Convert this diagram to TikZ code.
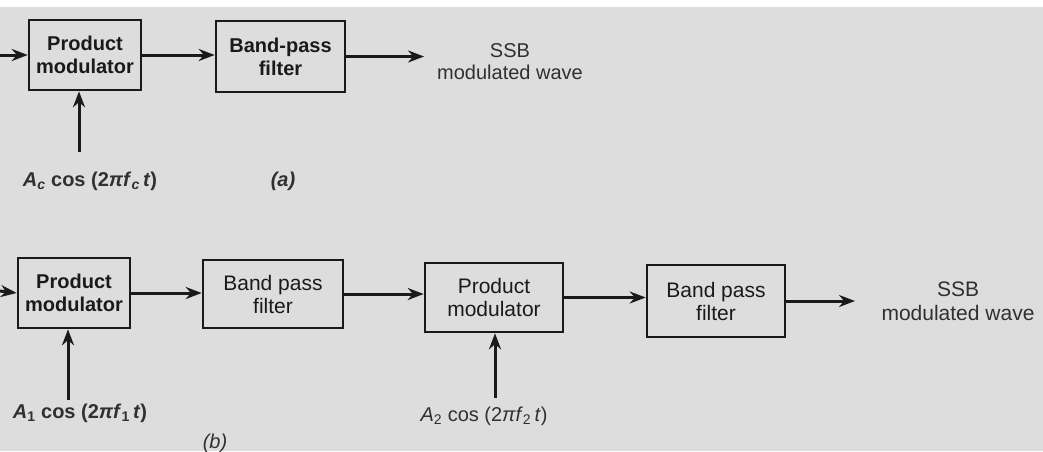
\documentclass[tikz,border=0pt]{standalone}
\usepackage{fontspec}
\setmainfont{Liberation Sans}
\usetikzlibrary{arrows.meta}
\definecolor{paper}{HTML}{DDDDDD}
\definecolor{ink}{HTML}{1A1A1A}
\definecolor{softink}{HTML}{303030}
\tikzset{
  blk/.style={draw=ink, line width=2.6pt, fill=paper, align=center, inner sep=0pt,
    font=\fontsize{21}{23}\selectfont, text=ink},
  heavy/.style={font=\bfseries\fontsize{20}{23}\selectfont},
  sig/.style={draw=ink, line width=3pt, -{Stealth[length=16pt,width=12pt]}},
  lbl/.style={font=\fontsize{20}{22}\selectfont, text=softink, inner sep=0pt, align=center},
}
\newcommand{\sv}[1]{\textit{#1}}
\begin{document}
\begin{tikzpicture}[x=1pt,y=-1pt]
  % paper and frame
  \fill[paper] (0,0) rectangle (1043,451);
  \fill[white] (0,0) rectangle (1043,7);
  \useasboundingbox (0,0) rectangle (1043,451);

  % (a) single-stage SSB generator
  \node[blk, heavy, minimum width=112pt, minimum height=70pt] (pma) at (85,55) {Product\\modulator};
  \node[blk, heavy, minimum width=129pt, minimum height=71pt] (bpfa) at (280.5,56.5) {Band-pass\\filter};
  \coordinate (ina) at (0,55);
  \coordinate (outa) at (424,57);
  \coordinate (ca) at (79,152);
  \node[lbl] (ssba) at (510,62) {SSB\\modulated wave};
  \node[lbl, heavy] (lbla) at (90,181) {\sv{A}\textsubscript{\sv{c}} cos (2\sv{πf}\textsubscript{\sv{c}}\,\sv{t})};
  \node[lbl, heavy] (capa) at (283,181) {\sv{(a)}};
  \draw[sig] (ina) -- (pma.west);
  \draw[sig] (pma.east) -- (pma.east -| bpfa.west);
  \draw[sig] (bpfa.east) -- (bpfa.east -| outa);
  \draw[sig] (ca) -- (ca |- pma.south);

  % (b) two-stage SSB generator
  \node[blk, heavy, minimum width=112pt, minimum height=70pt] (pm1) at (74,293) {Product\\modulator};
  \node[blk, minimum width=140pt, minimum height=68pt] (bpf1) at (273,294) {Band pass\\filter};
  \node[blk, minimum width=138pt, minimum height=69pt] (pm2) at (494,297.5) {Product\\modulator};
  \node[blk, minimum width=138pt, minimum height=72pt] (bpf2) at (716,301) {Band pass\\filter};
  \coordinate (inb) at (0,291);
  \coordinate (outb) at (855,302);
  \coordinate (c1) at (68,400);
  \coordinate (c2) at (495,398);
  \node[lbl, font=\fontsize{21}{24}\selectfont] (ssbb) at (958,301) {SSB\\modulated wave};
  \node[lbl, heavy] (lbl1) at (80,413) {\sv{A}\textsubscript{1} cos (2\sv{πf}\textsubscript{1}\,\sv{t})};
  \node[lbl] (lbl2) at (484,416) {\sv{A}\textsubscript{2} cos (2\sv{πf}\textsubscript{2}\,\sv{t})};
  \node[lbl] (capb) at (215,443) {\sv{(b)}};
  \draw[sig] (inb) -- (pm1.west);
  \draw[sig] (pm1.east) -- (pm1.east -| bpf1.west);
  \draw[sig] (bpf1.east) -- (bpf1.east -| pm2.west);
  \draw[sig] (pm2.east) -- (pm2.east -| bpf2.west);
  \draw[sig] (bpf2.east) -- (bpf2.east -| outb);
  \draw[sig] (c1) -- (c1 |- pm1.south);
  \draw[sig] (c2) -- (c2 |- pm2.south);
\end{tikzpicture}
\end{document}
